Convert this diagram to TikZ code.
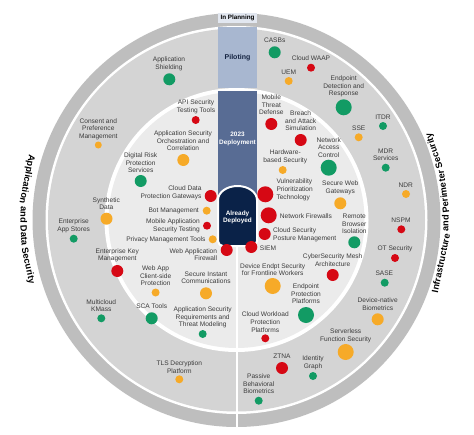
\documentclass[tikz,border=0pt]{standalone}
\usepackage{fontspec}
\setmainfont{Liberation Sans}
\usetikzlibrary{calc}
\definecolor{cBand}{RGB}{190,190,190}
\definecolor{cPilot}{RGB}{212,212,212}
\definecolor{cInner}{RGB}{235,235,235}
\definecolor{cPlanBox}{RGB}{226,231,240}
\definecolor{cPilotBox}{RGB}{168,183,208}
\definecolor{cDeployBox}{RGB}{88,108,148}
\definecolor{cDark}{RGB}{10,34,72}
\definecolor{cNavyTxt}{RGB}{20,35,65}
\definecolor{cTxt}{RGB}{60,60,60}
\definecolor{cG}{RGB}{18,155,100}
\definecolor{cO}{RGB}{246,170,40}
\definecolor{cR}{RGB}{214,8,20}
\begin{document}
\begin{tikzpicture}[x=1pt,y=1pt,
  lbl/.style={font=\fontsize{6.6}{7.6}\selectfont, text=cTxt, align=center, inner sep=0pt},
  lblL/.style={lbl, align=left, anchor=west},
  lblR/.style={lbl, align=right, anchor=east},
  dotbase/.style={circle, inner sep=0pt, draw=none},
  dG/.style={dotbase, fill=cG},
  dO/.style={dotbase, fill=cO},
  dR/.style={dotbase, fill=cR},
  sS/.style={minimum size=7pt},
  sM/.style={minimum size=8pt},
  sL/.style={minimum size=12pt},
  sX/.style={minimum size=16pt},
  colbox/.style={inner sep=0pt, font=\bfseries\fontsize{6.4}{7.4}\selectfont, align=center},
  ttl/.style={inner sep=0pt, anchor=base, font=\bfseries\fontsize{9.2}{10}\selectfont, text=black}
]
\useasboundingbox (0,0) rectangle (474,-434);
\fill[white] (0,0) rectangle (474,-434);
\coordinate (ctr) at (236.5,-220);
% rings
\fill[cBand] (ctr) ellipse[x radius=204, y radius=207];
\fill[white] (ctr) ellipse[x radius=191, y radius=194];
\fill[cPilot] (ctr) ellipse[x radius=188.5, y radius=191.5];
\fill[white] (ctr) circle[radius=132];
\fill[cInner] (ctr) circle[radius=128];
% column
\fill[cPlanBox] (218,-12.7) rectangle (257,-23.3);
\fill[cPilotBox] (218,-27) rectangle (257,-88);
\fill[cDeployBox] (218,-91) rectangle (257,-205);
\draw[white, line width=2pt] (237,-246) -- (237,-428);
\path[fill=cDark, draw=white, line width=2pt] (218,-200) arc[start angle=180, end angle=0, x radius=19.5, y radius=14] -- (257,-241) arc[start angle=0, end angle=-90, radius=5] -- (223,-246) arc[start angle=270, end angle=180, radius=5] -- cycle;
\node[colbox, text=black, font=\bfseries\fontsize{6.3}{7}\selectfont] (tplan) at (237.5,-18) {In Planning};
\node[colbox, text=cNavyTxt, font=\bfseries\fontsize{7}{8}\selectfont] (tpilot) at (237.5,-57.5) {Piloting};
\node[colbox, text=white] (tdeploy) at (237.5,-139) {2023\\Deployment};
\node[colbox, text=white] (talready) at (237.5,-217.5) {Already\\Deployed};
% left side
\node[lbl] (l1) at (169,-63.5) {Application\\Shielding};
\node[dG,sL] (d1) at (169.3,-79.3) {};
\node[lbl] (l2) at (196,-107) {API Security\\Testing Tools};
\node[dR,sM] (d2) at (195.7,-120) {};
\node[lbl] (l3) at (98.3,-129) {Consent and\\Preference\\Management};
\node[dO,sS] (d3) at (98.3,-145) {};
\node[lbl] (l4) at (183,-141) {Application Security\\Orchestration and\\Correlation};
\node[dO,sL] (d4) at (183.3,-160) {};
\node[lbl] (l5) at (140.7,-162.7) {Digital Risk\\Protection\\Services};
\node[dG,sL] (d5) at (140.7,-181) {};
\node[lblR] (l6) at (201.7,-192.8) {Cloud Data\\Protection Gateways};
\node[dR,sL] (d6) at (210.7,-196) {};
\node[lblR] (l7) at (199,-210.7) {Bot Management};
\node[dO,sM] (d7) at (206.7,-210.7) {};
\node[lblR] (l8) at (200,-225.8) {Mobile Application\\Security Testing};
\node[dR,sM] (d8) at (207,-225.7) {};
\node[lblR] (l9) at (205.7,-239.3) {Privacy Management Tools};
\node[dO,sM] (d9) at (212.7,-239.3) {};
\node[lblR] (l10) at (217.3,-254.7) {Web Application\\Firewall};
\node[dR,sL] (d10) at (226.7,-250) {};
\node[lbl] (l11) at (106.3,-203.5) {Synthetic\\Data};
\node[dO,sL] (d11) at (106.5,-218.7) {};
\node[lbl] (l12) at (73.7,-225.8) {Enterprise\\App Stores};
\node[dG,sM] (d12) at (73.7,-238.7) {};
\node[lbl] (l13) at (117.3,-255.3) {Enterprise Key\\Management};
\node[dR,sL] (d13) at (117.3,-271) {};
\node[lbl] (l14) at (155.6,-276) {Web App\\Client-side\\Protection};
\node[dO,sM] (d14) at (155.6,-292.5) {};
\node[lbl] (l15) at (206,-277.7) {Secure Instant\\Communications};
\node[dO,sL] (d15) at (206,-293.3) {};
\node[lbl] (l16) at (101.3,-305.5) {Multicloud\\KMass};
\node[dG,sM] (d16) at (101.3,-318.3) {};
\node[lbl] (l17) at (151.7,-306.3) {SCA Tools};
\node[dG,sL] (d17) at (151.7,-318.3) {};
\node[lbl] (l18) at (202.7,-317.3) {Application Security\\Requirements and\\Threat Modeling};
\node[dG,sM] (d18) at (202.7,-334) {};
\node[lbl] (l19) at (179.3,-367) {TLS Decryption\\Platform};
\node[dO,sM] (d19) at (179.3,-379.3) {};
% right side
\node[lbl] (r1) at (274.7,-40.7) {CASBs};
\node[dG,sL] (e1) at (274.7,-52.3) {};
\node[lbl] (r2) at (311,-58.3) {Cloud WAAP};
\node[dR,sM] (e2) at (311,-67.7) {};
\node[lbl] (r3) at (288.7,-72) {UEM};
\node[dO,sM] (e3) at (288.7,-81) {};
\node[lbl] (r4) at (343.7,-86.5) {Endpoint\\Detection and\\Response};
\node[dG,sX] (e4) at (343.7,-107.3) {};
\node[lbl] (r5) at (271.3,-105) {Mobile\\Threat\\Defense};
\node[dR,sL] (e5) at (271.3,-124) {};
\node[lbl] (r6) at (300.7,-120.8) {Breach\\and Attack\\Simulation};
\node[dR,sL] (e6) at (300.7,-140) {};
\node[lbl] (r7) at (383,-117.3) {ITDR};
\node[dG,sM] (e7) at (383,-126) {};
\node[lbl] (r8) at (358.7,-128.3) {SSE};
\node[dO,sM] (e8) at (358.7,-137.3) {};
\node[lbl] (r9) at (328.7,-147.5) {Network\\Access\\Control};
\node[dG,sX] (e9) at (328.7,-167.7) {};
\node[lbl] (r10) at (385.7,-154.7) {MDR\\Services};
\node[dG,sM] (e10) at (385.7,-167.7) {};
\node[lbl] (r11) at (285.3,-157) {Hardware-\\based Security};
\node[dO,sM] (e11) at (282.7,-170) {};
\node[lbl] (r12) at (405.7,-185) {NDR};
\node[dO,sM] (e12) at (406,-194) {};
\node[lblL] (r13) at (276.3,-189.8) {Vulnerability\\Prioritization\\Technology};
\node[dR,sX] (e13) at (265.3,-194.3) {};
\node[lbl] (r14) at (340.3,-188) {Secure Web\\Gateways};
\node[dO,sL] (e14) at (340.3,-203.3) {};
\node[lblL] (r15) at (279.7,-216) {Network Firewalls};
\node[dR,sX] (e15) at (268.7,-215.3) {};
\node[lbl] (r16) at (354.3,-224) {Remote\\Browser\\Isolation};
\node[dG,sL] (e16) at (354.3,-242.3) {};
\node[lbl] (r17) at (401,-220.3) {NSPM};
\node[dR,sM] (e17) at (401.3,-229.3) {};
\node[lblL] (r18) at (273,-234.5) {Cloud Security\\Posture Management};
\node[dR,sL] (e18) at (264.7,-234) {};
\node[lblL] (r19) at (259.7,-248.7) {SIEM};
\node[dR,sL] (e19) at (251.3,-247) {};
\node[lbl] (r20) at (395,-249) {OT Security};
\node[dR,sM] (e20) at (395,-258) {};
\node[lbl] (r21) at (332.7,-260.2) {CyberSecurity Mesh\\Architecture};
\node[dR,sL] (e21) at (332.7,-275) {};
\node[lbl] (r22) at (272.7,-269.5) {Device Endpt Security\\for Frontline Workers};
\node[dO,sX] (e22) at (272.7,-286) {};
\node[lbl] (r23) at (384.3,-273.3) {SASE};
\node[dG,sM] (e23) at (384.7,-282.7) {};
\node[lbl] (r24) at (306,-293.9) {Endpoint\\Protection\\Platforms};
\node[dG,sX] (e24) at (306,-315) {};
\node[lbl] (r25) at (377.7,-304.2) {Device-native\\Biometrics};
\node[dO,sL] (e25) at (377.7,-319.3) {};
\node[lbl] (r26) at (265.3,-322.2) {Cloud Workload\\Protection\\Platforms};
\node[dR,sM] (e26) at (265.3,-338.3) {};
\node[lbl] (r27) at (345.7,-335.5) {Serverless\\Function Security};
\node[dO,sX] (e27) at (345.7,-352) {};
\node[lbl] (r28) at (282,-356) {ZTNA};
\node[dR,sL] (e28) at (282,-368) {};
\node[lbl] (r29) at (313,-362.8) {Identity\\Graph};
\node[dG,sM] (e29) at (313,-376) {};
\node[lbl] (r30) at (258.7,-384) {Passive\\Behavioral\\Biometrics};
\node[dG,sM] (e30) at (258.7,-400.7) {};
% curved titles, word by word along the arc
\node[ttl, rotate=259.1] (tl1) at ($(ctr)+(169.1:216 and 218)$) {Application};
\node[ttl, rotate=268.6] (tl2) at ($(ctr)+(178.6:216 and 218)$) {and};
\node[ttl, rotate=274.1] (tl3) at ($(ctr)+(184.1:216 and 218)$) {Data};
\node[ttl, rotate=282.3] (tl4) at ($(ctr)+(192.3:216 and 218)$) {Security};
\node[ttl, rotate=78.1] (tr1) at ($(ctr)+(-11.9:212 and 214)$) {Infrastructure};
\node[ttl, rotate=89.1] (tr2) at ($(ctr)+(-0.9:212 and 214)$) {and};
\node[ttl, rotate=97.7] (tr3) at ($(ctr)+(7.7:212 and 214)$) {Perimeter};
\node[ttl, rotate=109.1] (tr4) at ($(ctr)+(19.1:212 and 214)$) {Security};
\end{tikzpicture}
\end{document}
